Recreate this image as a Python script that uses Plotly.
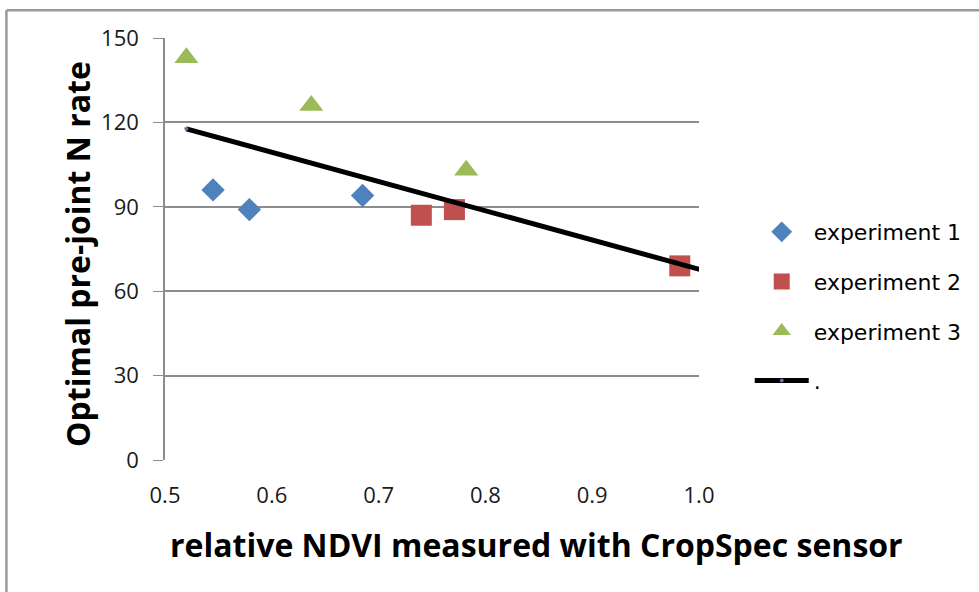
import plotly.graph_objects as go

# experiment data (relative NDVI, optimal N rate)
exp1_x = [0.545, 0.579, 0.685]
exp1_y = [96, 89, 94]
exp2_x = [0.740, 0.771, 0.982]
exp2_y = [87, 89, 69]
exp3_x = [0.520, 0.637, 0.782]
exp3_y = [143, 126, 103]
fit_x = [0.520, 1.003]
fit_y = [117.7, 67.5]

y_ticks = [0, 30, 60, 90, 120, 150]
x_ticks = [0.5, 0.6, 0.7, 0.8, 0.9, 1.0]

FONT = 'Open Sans, sans-serif'

fig = go.Figure()
fig.add_trace(go.Scatter(x=exp1_x, y=exp1_y, mode='markers', name='experiment 1',
                         legendgroup='1',
                         marker=dict(symbol='diamond', size=18, color='#4F81BD')))
fig.add_trace(go.Scatter(x=exp2_x, y=exp2_y, mode='markers', name='experiment 2',
                         legendgroup='2',
                         marker=dict(symbol='square', size=21, color='#C0504D')))
fig.add_trace(go.Scatter(x=exp3_x, y=exp3_y, mode='markers', name='experiment 3',
                         legendgroup='3',
                         marker=dict(symbol='triangle-up', size=21, color='#9BBB59')))
fig.add_trace(go.Scatter(x=fit_x, y=fit_y, mode='lines+markers', name='.',
                         legendgroup='4',
                         line=dict(color='black', width=5),
                         marker=dict(size=4, color='#8064A2')))

tick_font = dict(family=FONT, size=22, color='#1a1a1a')
fig.update_layout(
    width=979, height=592,
    margin=dict(l=165, r=276, t=38, b=132),
    paper_bgcolor='white', plot_bgcolor='white',
    xaxis=dict(range=[0.5, 1.0], tickvals=x_ticks, ticktext=[f"{v:.1f}" for v in x_ticks],
               showgrid=False, zeroline=False, showline=False,
               ticks='outside', ticklen=16, tickcolor='rgba(0,0,0,0)',
               tickfont=tick_font),
    yaxis=dict(range=[0, 150], tickvals=y_ticks, showgrid=True, gridcolor='#8c8c8c',
               gridwidth=1.5, zeroline=False, showline=True, linecolor='#8c8c8c',
               linewidth=1.5, ticks='outside', ticklen=10, tickcolor='#8c8c8c',
               ticklabelstandoff=10, tickfont=tick_font),
    legend=dict(x=1.095, y=0.59, xanchor='left', yanchor='top', itemwidth=54,
                font=dict(family='DejaVu Sans', size=22, color='black'),
                tracegroupgap=18, bgcolor='rgba(0,0,0,0)'),
    showlegend=True,
)

# axis titles
fig.add_annotation(text='<b>relative NDVI measured with CropSpec sensor</b>',
                   xref='paper', yref='paper', x=0.695, y=-0.201,
                   xanchor='center', yanchor='middle',
                   showarrow=False, font=dict(family=FONT, size=32, color='black'))
fig.add_annotation(text='<b>Optimal pre-joint N rate</b>', textangle=-90,
                   xref='paper', yref='paper', x=-0.165, y=0.488,
                   xanchor='center', yanchor='middle',
                   showarrow=False, font=dict(family=FONT, size=32, color='black'))

# outer chart frame (top and left edges)
fig.add_shape(type='line', xref='paper', yref='paper',
              x0=-0.297, y0=1.066, x1=1.53, y1=1.066,
              line=dict(color='#999999', width=2.5))
fig.add_shape(type='line', xref='paper', yref='paper',
              x0=-0.297, y0=1.066, x1=-0.297, y1=-0.33,
              line=dict(color='#999999', width=2.5))

fig.write_html("out.html", config={'displayModeBar': False},
               post_script="document.body.style.margin='0';")
